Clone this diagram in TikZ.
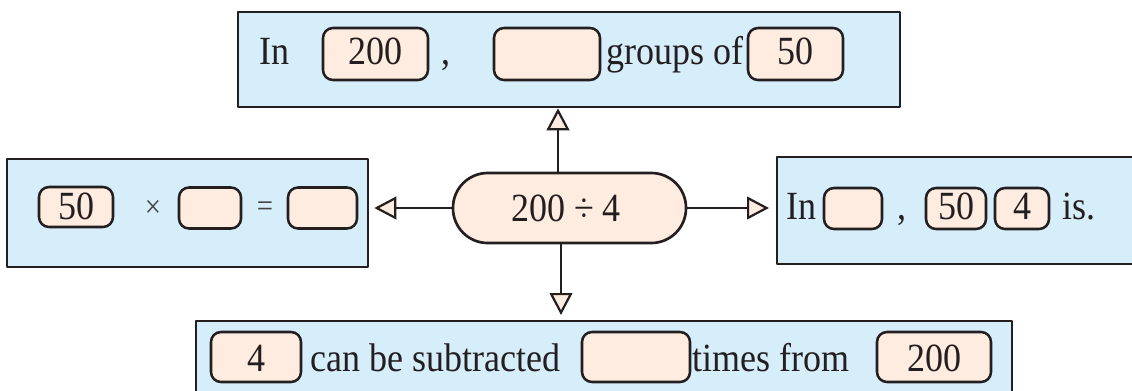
\documentclass[tikz,border=0pt]{standalone}
\usepackage{fontspec}
\setmainfont{Liberation Serif}[FakeStretch=0.9]
\usetikzlibrary{arrows.meta}
\definecolor{pblue}{HTML}{D6EDFA}
\definecolor{peach}{HTML}{FDECDF}
\definecolor{ink}{HTML}{231F20}
\newcommand{\fz}{\fontsize{30}{35}\selectfont}
\begin{document}
\begin{tikzpicture}[x=0.75pt,y=-0.75pt,line join=round,
  outer/.style={draw=ink,fill=pblue,line width=2pt,inner sep=0pt},
  ibox/.style={draw=ink,fill=peach,line width=1.9pt,rounded corners=7.5pt,inner sep=0pt},
  sz/.style 2 args={minimum width=#1*0.75pt,minimum height=#2*0.75pt},
  txt/.style={anchor=base west,inner sep=0pt,font=\fz,text=ink},
  num/.style={anchor=base,inner sep=0pt,font=\fz,text=ink},
  sym/.style={inner sep=0pt,font=\fontsize{24}{28}\selectfont,text=ink!85},
  conn/.style={draw=ink,line width=1.65pt,
    -{Triangle[length=16.5pt,width=17pt,fill=peach]}}]
\path[use as bounding box] (0,0) rectangle (1132,390);
\clip (0,0) rectangle (1132,390);

% outer boxes
\node[outer,sz={662}{95}] (T) at (569,59.5) {};
\node[outer,sz={361}{108}] (L) at (187.5,213) {};
\node[outer,sz={373}{107}] (R) at (963.5,210.5) {};
\node[outer,sz={816}{79}] (B) at (604,360.5) {};

% centre node
\node[draw=ink,fill=peach,line width=2pt,rounded corners=26pt,inner sep=0pt,sz={233}{70}] (C) at (569.5,208) {};
\node[num] (Ct) at (566,221) {200 ÷ 4};

% top box content
\node[txt] (tIn) at (259,64) {In};
\node[ibox,sz={105}{52}] (t200) at (375.5,54) {};
\node[num] (t200n) at (375.5,64) {200};
\node[txt] (tcomma) at (441,64) {,};
\node[ibox,sz={106}{52}] (tE) at (547,54) {};
\node[txt] (tgroups) at (606,64) {groups of};
\node[ibox,sz={95}{52}] (t50) at (795.5,54) {};
\node[num] (t50n) at (795.5,64) {50};

% left box content
\node[ibox,sz={74}{40}] (l50) at (76,207) {};
\node[num] (l50n) at (76,219) {50};
\node[sym] (ltimes) at (153,209) {×};
\node[ibox,sz={62}{41}] (lE1) at (210,208) {};
\node[sym] (leq) at (265,209) {=};
\node[ibox,sz={69}{41}] (lE2) at (322.5,208) {};

% right box content
\node[txt] (rIn) at (786,219) {In};
\node[ibox,sz={58}{41}] (rE) at (853,208.5) {};
\node[txt] (rcomma) at (897,219) {,};
\node[ibox,sz={60}{41}] (r50) at (956,208.5) {};
\node[num] (r50n) at (956,219) {50};
\node[ibox,sz={54}{41}] (r4) at (1022,208.5) {};
\node[num] (r4n) at (1022,219) {4};
\node[txt] (ris) at (1062,219) {is.};

% bottom box content
\node[ibox,sz={90}{50}] (b4) at (256,357) {};
\node[num] (b4n) at (256,371) {4};
\node[txt] (bcan) at (310,371) {can be subtracted};
\node[ibox,sz={108}{50}] (bE) at (636,357) {};
\node[txt] (btimes) at (692,371) {times from};
\node[ibox,sz={114}{50}] (b200) at (934,357) {};
\node[num] (b200n) at (934,371) {200};

% connectors
\coordinate (ux) at (558,0);
\coordinate (dx) at (561,0);
\draw[conn] (C.north -| ux) -- (T.south -| ux);
\draw[conn,shorten >=3.5pt] (C.south -| dx) -- (B.north -| dx);
\draw[conn,shorten >=3.75pt] (C.west) -- (L.east |- C.west);
\draw[conn,shorten >=5pt] (C.east) -- (R.west |- C.east);
\end{tikzpicture}
\end{document}
